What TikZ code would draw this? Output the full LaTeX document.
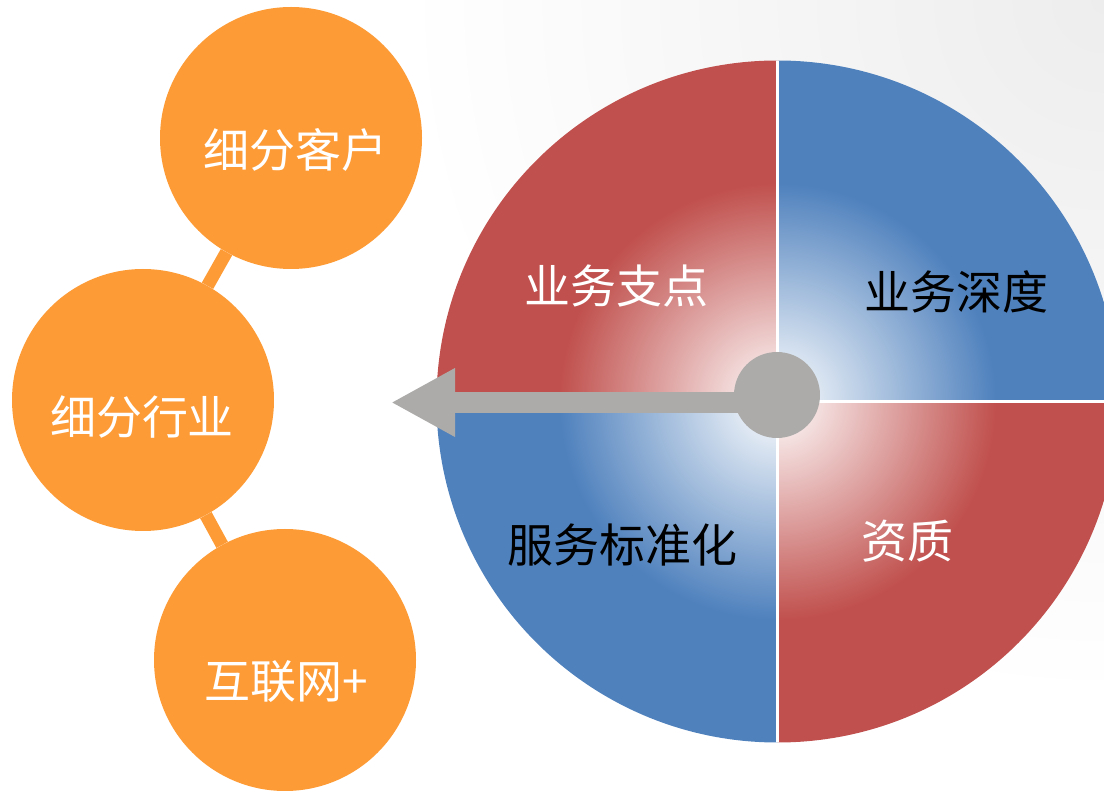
\documentclass[tikz,border=0pt]{standalone}
\usepackage{fontspec}
\newfontfamily\cjk{Noto Sans CJK SC}
\usetikzlibrary{arrows.meta}
\definecolor{qred}{RGB}{192,80,77}
\definecolor{qblue}{RGB}{79,129,189}
\definecolor{orb}{RGB}{253,155,54}
\definecolor{arrgray}{RGB}{172,171,169}
\pgfdeclareradialshading{redsh}{\pgfpointorigin}{color(0bp)=(white); color(16bp)=(qred); color(50bp)=(qred)}
\pgfdeclareradialshading{bluesh}{\pgfpointorigin}{color(0bp)=(white); color(16bp)=(qblue); color(50bp)=(qblue)}
\pgfdeclareradialshading{bgsh}{\pgfpointorigin}{color(0bp)=(black!7); color(23bp)=(white); color(50bp)=(white)}
\tikzset{
  orbnode/.style={circle, fill=orb, minimum size=262pt, inner sep=0pt},
  orblink/.style={draw=orb, line width=13pt},
  lbl/.style={font=\cjk\fontsize{46}{50}\selectfont, inner sep=0pt},
  wlbl/.style={lbl, text=white},
  blbl/.style={lbl, text=black},
  hubnode/.style={circle, fill=arrgray, minimum size=86pt, inner sep=0pt},
  arrowlink/.style={draw=arrgray, line width=21pt, -{Triangle[length=64pt,width=64pt]}},
  gapline/.style={draw=white, line width=3pt}
}
\begin{document}
\begin{tikzpicture}[x=1pt,y=-1pt]
\useasboundingbox (0,0) rectangle (1104,791);
\clip (0,0) rectangle (1104,791);
% background
\shade[shading=bgsh] (1104,0) circle (760pt);
% big circle
\coordinate (C) at (777.5,401.5);
\begin{scope}
  \clip (C) circle (341pt);
  \begin{scope}\clip (C) rectangle (0,0);      \shade[shading=redsh]  (C) circle (341pt);\end{scope}
  \begin{scope}\clip (C) rectangle (1200,0);   \shade[shading=bluesh] (C) circle (341pt);\end{scope}
  \begin{scope}\clip (C) rectangle (0,800);    \shade[shading=bluesh] (C) circle (341pt);\end{scope}
  \begin{scope}\clip (C) rectangle (1200,800); \shade[shading=redsh]  (C) circle (341pt);\end{scope}
  \draw[gapline] (777.5,40) -- (777.5,760);
  \draw[gapline] (420,401.5) -- (1130,401.5);
\end{scope}
% quadrant labels
\node[wlbl] (q1) at (616,286) {业务支点};
\node[blbl] (q2) at (956,292) {业务深度};
\node[blbl] (q3) at (622,545) {服务标准化};
\node[wlbl] (q4) at (907,541) {资质};
% hub and arrow
\node[hubnode] (hub) at (777,395) {};
\coordinate (tip) at (391,402.5);
\draw[arrowlink] (hub.center |- tip) -- (tip);
% orange circles
\node[orbnode] (kh) at (291,138) {};
\node[orbnode] (hy) at (143,400) {};
\node[orbnode] (hl) at (285,660) {};
\draw[orblink] (kh) -- (hy);
\draw[orblink] (hy) -- (hl);
\node[wlbl] (tkh) at (295,150) {细分客户};
\node[wlbl] (thy) at (142,417) {细分行业};
\node[wlbl] (thl) at (286,682) {互联网+};
\end{tikzpicture}
\end{document}
